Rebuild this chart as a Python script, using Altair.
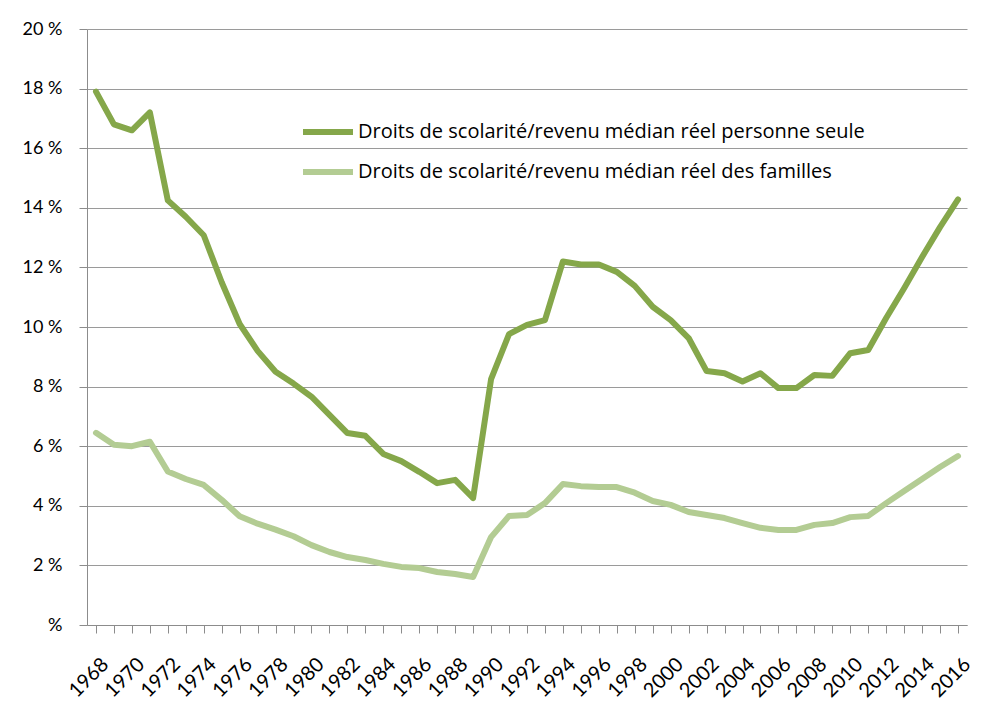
import altair as alt
import pandas as pd

years = list(range(1968, 2017))
single = [17.9, 16.8, 16.6, 17.2, 14.25, 13.7, 13.08, 11.5, 10.1, 9.2, 8.5, 8.1,
          7.66, 7.05, 6.44, 6.35, 5.74, 5.5, 5.14, 4.76, 4.87, 4.26,
          8.25, 9.76, 10.07, 10.23, 12.2, 12.1, 12.1, 11.85, 11.38, 10.68,
          10.23, 9.63, 8.52, 8.45, 8.17, 8.45, 7.95, 7.95, 8.39, 8.36,
          9.12, 9.23, 10.3, 11.3, 12.35, 13.35, 14.28]
families = [6.45, 6.05, 6.0, 6.15, 5.15, 4.9, 4.7, 4.2, 3.65, 3.4, 3.2, 2.98,
            2.68, 2.45, 2.28, 2.18, 2.05, 1.95, 1.91, 1.78, 1.71, 1.61,
            2.95, 3.66, 3.69, 4.09, 4.73, 4.66, 4.63, 4.63, 4.44, 4.16,
            4.03, 3.79, 3.69, 3.59, 3.42, 3.26, 3.19, 3.19, 3.36, 3.42,
            3.62, 3.66, 4.09, 4.5, 4.9, 5.3, 5.67]
series_names = ["Droits de scolarité/revenu médian réel personne seule",
                "Droits de scolarité/revenu médian réel des familles"]
series_colors = ["#85a74a", "#b3cc93"]

rows = []
for name, vals in zip(series_names, [single, families]):
    for y, v in zip(years, vals):
        rows.append({"year": y, "value": v, "series": name})
df = pd.DataFrame(rows)

W, H = 880, 596
band = W / len(years)

chart = alt.Chart(df).mark_line(strokeWidth=6, strokeJoin="round", strokeCap="round").encode(
    x=alt.X("year:O", title=None,
            scale=alt.Scale(paddingInner=0, paddingOuter=0),
            axis=alt.Axis(bandPosition=0, labelOffset=band / 2,
                          labelExpr="datum.value % 2 == 0 ? datum.label : ''",
                          labelAngle=315, labelAlign="right", labelBaseline="middle",
                          labelPadding=28, tickSize=8, tickColor="#8c8c8c",
                          domainColor="#8c8c8c", labelFontSize=20, labelColor="#000",
                          labelFont="Lato", grid=False)),
    y=alt.Y("value:Q", title=None,
            scale=alt.Scale(domain=[0, 20]),
            axis=alt.Axis(values=list(range(0, 21, 2)),
                          labelExpr="datum.value == 0 ? '%' : datum.value + ' %'",
                          tickSize=8, tickColor="#8c8c8c", domainColor="#8c8c8c",
                          labelPadding=17, labelFontSize=18, labelColor="#000",
                          labelFont="Lato", grid=True, gridColor="#9a9a9a")),
    color=alt.Color("series:N", sort=series_names,
                    scale=alt.Scale(domain=series_names, range=series_colors),
                    legend=alt.Legend(title=None, orient="none", legendX=213, legendY=75,
                                      symbolType="stroke", symbolSize=2500,
                                      symbolStrokeWidth=6, labelFontSize=20,
                                      labelFont="Open Sans", labelColor="#000",
                                      labelOffset=2, rowPadding=-27, labelLimit=700)),
).properties(
    width=W, height=H,
    autosize=alt.AutoSizeParams(type="none"),
    padding={"left": 79, "top": 21, "right": 7, "bottom": 80},
).configure_view(stroke=None)

chart.save("out.html", embed_options={"renderer": "svg", "actions": False})
